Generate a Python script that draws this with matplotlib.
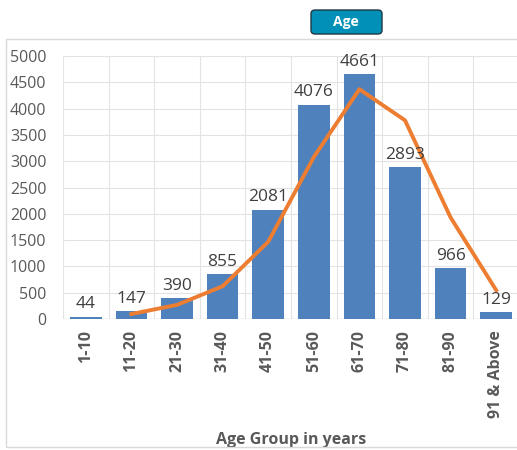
import matplotlib.pyplot as plt
from matplotlib.patches import FancyBboxPatch, Rectangle

# Data
age_groups = ["1-10", "11-20", "21-30", "31-40", "41-50",
              "51-60", "61-70", "71-80", "81-90", "91 & Above"]
counts = [44, 147, 390, 855, 2081, 4076, 4661, 2893, 966, 129]

# trend line, starts at the 2nd group
trend_groups = age_groups[1:]
trend_values = [95, 268, 622, 1468, 3078, 4368, 3777, 1930, 547]

plt.rcParams['font.family'] = ['Open Sans', 'DejaVu Sans']

fig = plt.figure(figsize=(5.17, 4.5), dpi=100)

# outer chart border
fig.patches.append(Rectangle((6/517, 1 - 447/450), 520/517, 408/450,
                             transform=fig.transFigure, fill=False,
                             edgecolor="#d9d9d9", linewidth=1))

ax = fig.add_axes([63/517, 1 - 319/450, 456/517, 263/450])

x = list(range(len(age_groups)))
ax.bar(x, counts, width=0.69, color="#4f81bd", zorder=3)
tx = [age_groups.index(g) for g in trend_groups]
ax.plot(tx, trend_values, color="#ed7d31", linewidth=2.8, zorder=4)

for xi, v in zip(x, counts):
    ax.text(xi, v + 80, str(v), ha="center", va="bottom",
            fontsize=12.5, color="#404040", zorder=5)

ax.set_xlim(-0.5, len(age_groups) - 0.5)
ax.set_ylim(0, 5000)
ax.set_yticks(range(0, 5001, 500))
ax.set_xticks(x)
ax.set_xticklabels(age_groups, rotation=90, fontsize=11.5,
                   color="#595959", fontweight="bold")
ax.tick_params(axis="y", labelsize=11.5, labelcolor="#595959", length=0, pad=12)
ax.tick_params(axis="x", length=0, pad=8)

# vertical grid lines at category boundaries
for b in range(len(age_groups) + 1):
    ax.axvline(b - 0.5, color="#e3e3e3", linewidth=0.8, zorder=1)
ax.yaxis.grid(True, color="#e3e3e3", linewidth=0.8, zorder=1)
for s in ax.spines.values():
    s.set_visible(False)
ax.axhline(0, color="#d9d9d9", linewidth=1, zorder=2)

ax.set_xlabel("Age Group in years", fontsize=11.5, fontweight="bold",
              color="#595959", labelpad=10)

# title badge
fig.patches.append(FancyBboxPatch((311/517, 1 - 34/450), 71/517, 24/450,
                                  boxstyle="round,pad=0,rounding_size=0.008",
                                  transform=fig.transFigure,
                                  facecolor="#0090b8", edgecolor="#1f3a44",
                                  linewidth=1))
fig.text(346/517, 1 - 22/450, "Age", ha="center", va="center",
         fontsize=10, fontweight="bold", color="white")

fig.savefig("out.png", dpi=100)
